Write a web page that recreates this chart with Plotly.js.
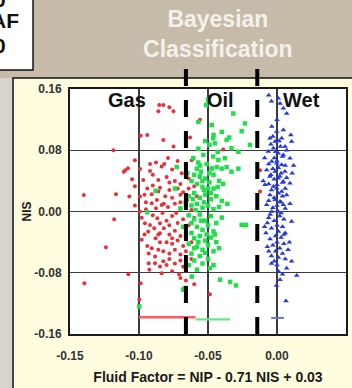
<!DOCTYPE html>
<html><head><meta charset="utf-8">
<script src="https://cdn.plot.ly/plotly-3.0.1.min.js"></script>
<style>html,body{margin:0;padding:0;overflow:hidden;background:#c6bba9}</style>
</head><body><div id="chart" style="width:352px;height:388px"></div>
<script>
const xTickVals = [-0.15, -0.10, -0.05, 0.00, 0.05];
const xTickText = ['-0.15', '-0.10', '-0.05', '0.00', '0.05'];
const yTickVals = [-0.16, -0.08, 0.00, 0.08, 0.16];
const yTickText = ['-0.16', '-0.08', '0.00', '0.08', '0.16'];
const lightGridX = [-0.05];
const classNames = ['Gas', 'Oil', 'Wet'];
const classLabelX = [-0.109, -0.041, 0.018];
const classLabelY = [0.146, 0.146, 0.146];
const boundaries = [-0.066, -0.0143];

const gasX = [-0.0853,-0.0860,-0.0824,-0.0780,-0.0750,-0.0988,-0.0940,-0.0824,-0.0630,-0.0558,-0.0750,-0.1186,-0.1030,-0.0920,-0.0877,-0.0817,-0.0790,-0.0720,-0.1080,-0.1110,-0.0993,-0.0836,-0.0920,-0.1100,-0.0760,-0.0690,-0.0473,-0.0390,-0.0969,-0.0860,-0.0800,-0.0740,-0.0700,-0.0640,-0.1030,-0.0940,-0.0900,-0.0848,-0.0780,-0.0720,-0.0680,-0.0600,-0.1400,-0.1167,-0.1070,-0.0993,-0.0908,-0.0860,-0.0810,-0.0760,-0.0700,-0.0650,-0.0580,-0.1030,-0.0908,-0.0877,-0.0836,-0.0790,-0.0740,-0.0700,-0.0660,-0.0620,-0.0993,-0.0950,-0.1180,-0.0957,-0.0920,-0.0867,-0.0848,-0.0800,-0.0760,-0.0720,-0.0680,-0.0640,-0.0600,-0.0900,-0.0980,-0.0933,-0.0890,-0.0848,-0.0820,-0.0780,-0.0740,-0.0700,-0.0660,-0.0880,-0.0960,-0.0980,-0.0848,-0.0800,-0.0760,-0.0720,-0.0680,-0.0620,-0.1240,-0.0908,-0.0860,-0.0824,-0.0780,-0.0740,-0.0700,-0.0660,-0.0930,-0.0884,-0.0930,-0.0884,-0.0848,-0.0824,-0.0780,-0.0740,-0.0700,-0.0680,-0.0925,-0.0836,-0.0760,-0.0710,-0.1396,-0.1077,-0.0988,-0.0998,-0.0700,-0.0660,-0.0486,-0.0600,-0.0618,-0.0560,-0.0123,-0.0123,-0.0870,-0.0830,-0.0780,-0.0950,-0.0730,-0.0860,-0.0780,-0.0640,-0.0900,-0.0960,-0.0820,-0.0760,-0.0940,-0.0700,-0.0620,-0.1050,-0.0800];
const gasY = [0.139,0.131,0.139,0.136,0.131,0.099,0.100,0.0935,0.0966,0.120,0.085,0.080,0.067,0.062,0.064,0.062,0.070,0.066,0.0565,0.052,0.0556,0.0587,0.053,0.054,0.055,0.050,0.0565,0.081,0.041,0.041,0.045,0.040,0.036,0.043,0.033,0.030,0.034,0.031,0.028,0.030,0.025,0.033,0.0217,0.0226,0.0196,0.0196,0.0226,0.026,0.020,0.018,0.022,0.015,0.020,0.0078,0.0108,0.0043,0.0086,0.006,0.010,0.004,0.008,0.002,0.000,0.003,-0.010,-0.0153,-0.0175,-0.0087,-0.0153,-0.012,-0.006,-0.015,-0.010,-0.018,-0.008,-0.005,-0.008,-0.026,-0.022,-0.0284,-0.022,-0.030,-0.025,-0.032,-0.028,-0.035,-0.030,-0.037,-0.040,-0.040,-0.042,-0.038,-0.045,-0.040,-0.0466,-0.048,-0.050,-0.052,-0.055,-0.050,-0.056,-0.052,-0.055,-0.0587,-0.0675,-0.0675,-0.0718,-0.065,-0.062,-0.068,-0.064,-0.072,-0.076,-0.0805,-0.078,-0.082,-0.0936,-0.082,-0.0936,-0.115,-0.087,-0.090,-0.108,-0.095,0.067,0.045,0.054,0.026,0.015,-0.002,0.038,0.012,-0.002,-0.030,-0.018,0.030,0.048,0.022,0.010,-0.035,-0.045,0.012,-0.062,0.042,-0.070];

const oilX = [-0.0514,-0.0500,-0.0317,-0.0232,-0.0256,-0.0400,-0.0473,-0.0460,-0.0196,-0.0346,-0.0365,-0.0462,-0.0490,-0.0450,-0.0330,-0.0280,-0.0607,-0.0534,-0.0462,-0.0425,-0.0377,-0.0558,-0.0510,-0.0473,-0.0437,-0.0401,-0.0365,-0.0280,-0.0330,-0.0727,-0.0600,-0.0560,-0.0520,-0.0490,-0.0460,-0.0420,-0.0390,-0.0620,-0.0580,-0.0540,-0.0500,-0.0460,-0.0740,-0.0880,-0.0640,-0.0600,-0.0560,-0.0520,-0.0480,-0.0440,-0.0400,-0.0620,-0.0580,-0.0540,-0.0500,-0.0460,-0.0420,-0.0660,-0.0700,-0.0360,-0.0940,-0.0640,-0.0600,-0.0560,-0.0520,-0.0480,-0.0440,-0.0400,-0.0580,-0.0540,-0.0500,-0.0460,-0.0620,-0.0680,-0.0256,-0.0225,-0.0600,-0.0560,-0.0520,-0.0480,-0.0440,-0.0640,-0.0580,-0.0540,-0.0500,-0.0460,-0.0620,-0.0560,-0.0420,-0.0600,-0.0540,-0.0500,-0.0486,-0.0640,-0.0580,-0.0460,-0.0667,-0.0680,-0.0618,-0.0413,-0.0340,-0.0297,-0.0998,-0.0550,-0.0570,-0.0530,-0.0510,-0.0570,-0.0590,-0.0550,-0.0610,-0.0490,-0.0530,-0.0570,-0.0520,-0.0430,-0.0480,-0.0600,-0.0520,-0.0650,-0.0580,-0.0620,-0.0450,-0.0430,-0.0540,-0.0570];
const oilY = [0.139,0.146,0.128,0.115,0.105,0.104,0.113,0.100,0.087,0.0966,0.0935,0.0957,0.087,0.089,0.0826,0.078,0.0696,0.074,0.0718,0.0674,0.0696,0.060,0.062,0.056,0.058,0.056,0.058,0.056,0.052,0.058,0.048,0.046,0.043,0.050,0.048,0.040,0.036,0.040,0.036,0.032,0.030,0.030,0.030,0.027,0.020,0.024,0.018,0.022,0.016,0.020,0.014,0.008,0.010,0.005,0.008,0.003,0.006,0.012,0.004,0.010,-0.001,-0.005,-0.010,-0.004,-0.012,-0.006,-0.015,-0.008,-0.020,-0.024,-0.018,-0.026,-0.028,-0.020,-0.0175,-0.0175,-0.035,-0.032,-0.038,-0.034,-0.040,-0.042,-0.046,-0.050,-0.044,-0.052,-0.055,-0.058,-0.048,-0.064,-0.068,-0.062,-0.074,-0.070,-0.076,-0.070,-0.100,-0.102,-0.085,-0.089,-0.092,-0.0966,-0.124,0.052,0.064,0.012,-0.030,-0.040,0.002,-0.012,0.016,0.038,0.028,0.082,0.092,0.078,0.024,-0.048,-0.054,0.050,0.056,-0.015,-0.030,0.032,0.040,0.117];

const wetX = [0.0009,0.0022,0.0046,0.0070,-0.0060,-0.0040,0.0000,-0.0038,-0.0002,0.0046,-0.0051,-0.0014,0.0034,0.0106,0.0058,-0.0026,-0.0063,0.0009,0.0046,0.0094,-0.0038,-0.0002,0.0034,-0.0075,-0.0014,0.0058,-0.0051,0.0009,0.0046,0.0094,-0.0087,-0.0026,-0.0002,0.0034,-0.0051,0.0070,-0.0014,0.0022,-0.0075,0.0046,0.0094,-0.0038,0.0009,-0.0030,0.0015,-0.0045,0.0025,0.0070,-0.0010,0.0040,-0.0020,0.0000,-0.0060,0.0060,0.0010,-0.0030,0.0030,-0.0045,0.0020,0.0070,-0.0020,0.0040,-0.0060,0.0000,0.0060,-0.0040,0.0010,0.0040,-0.0020,-0.0060,0.0030,0.0000,-0.0030,0.0060,-0.0100,0.0110,-0.0090,0.0100,0.0120,-0.0050,0.0020,0.0050,-0.0020,-0.0070,0.0000,0.0106,0.0040,-0.0040,0.0010,-0.0080,0.0060,-0.0010,0.0030,-0.0050,0.0000,0.0050,-0.0030,-0.0070,0.0020,0.0080,-0.0010,0.0040,-0.0040,0.0010,0.0106,0.0060,-0.0020,0.0070,0.0143,0.0040,0.0022,-0.0004,0.0010,0.0065,-0.0060,0.0030,-0.0090,0.0090,-0.0060,0.0000,0.0050,-0.0040];
const wetY = [0.148,0.141,0.135,0.128,0.152,0.144,0.120,0.111,0.1044,0.1065,0.0957,0.0914,0.0957,0.0914,0.0849,0.0826,0.0783,0.0761,0.0739,0.0696,0.0653,0.0631,0.0609,0.0543,0.0522,0.0522,0.0457,0.0435,0.0392,0.0369,0.0348,0.0326,0.0304,0.0261,0.0217,0.0217,0.0152,0.0131,0.0087,0.0087,0.0100,0.0000,0.0000,0.098,0.092,0.088,0.085,0.080,0.078,0.072,0.070,0.066,0.062,0.060,0.057,0.056,0.050,0.048,0.046,0.044,0.042,0.038,0.036,0.035,0.030,0.028,0.024,0.020,0.018,0.014,0.012,0.008,0.005,0.004,0.040,0.050,0.070,0.100,0.060,-0.004,-0.006,-0.010,-0.012,-0.015,-0.018,-0.013,-0.020,-0.022,-0.026,-0.028,-0.028,-0.032,-0.034,-0.036,-0.040,-0.042,-0.044,-0.046,-0.048,-0.050,-0.052,-0.055,-0.058,-0.060,-0.065,-0.062,-0.065,-0.074,-0.0836,-0.082,-0.089,-0.0966,-0.078,-0.117,-0.008,-0.002,-0.020,-0.040,-0.052,-0.070,-0.030,-0.068];

const gasBarX = [-0.100, -0.059];
const gasBarY = [-0.138, -0.138];
const oilBarX = [-0.059, -0.034];
const oilBarY = [-0.141, -0.141];
const wetBarX = [-0.0043, 0.005];
const wetBarY = [-0.139, -0.139];

const FONT = 'Liberation Sans, Arial, sans-serif';

const traces = [
  {x: gasX, y: gasY, type: 'scatter', mode: 'markers', name: 'Gas',
   marker: {symbol: 'circle', size: 4, color: '#ee2d37'}},
  {x: oilX, y: oilY, type: 'scatter', mode: 'markers', name: 'Oil',
   marker: {symbol: 'square', size: 4.5, color: '#1fe04a'}},
  {x: wetX, y: wetY, type: 'scatter', mode: 'markers', name: 'Wet',
   marker: {symbol: 'triangle-up', size: 5, color: '#2338e6'}},
  {x: gasBarX, y: gasBarY, type: 'scatter', mode: 'lines', line: {color: '#ff5a5a', width: 2.5}, hoverinfo: 'skip'},
  {x: oilBarX, y: oilBarY, type: 'scatter', mode: 'lines', line: {color: '#6fe38a', width: 2.2}, hoverinfo: 'skip'},
  {x: wetBarX, y: wetBarY, type: 'scatter', mode: 'lines', line: {color: '#6a78c8', width: 2}, hoverinfo: 'skip'}
];

const shapes = [
  {type: 'rect', xref: 'paper', yref: 'paper', x0: -0.3, x1: -0.2065, y0: -0.3, y1: 1.045,
   fillcolor: '#d8d4cc', line: {width: 0}, layer: 'below'},
  {type: 'rect', xref: 'paper', yref: 'paper', x0: -0.2065, x1: 1.1, y0: -0.3, y1: 1.0449,
   fillcolor: '#fffce0', line: {color: '#111', width: 1.5}, layer: 'below'},
  {type: 'rect', xref: 'paper', yref: 'paper', x0: 0, x1: 1, y0: 0, y1: 1,
   fillcolor: '#ffffff', line: {width: 0}, layer: 'below'},
  {type: 'rect', xref: 'paper', yref: 'paper', x0: -0.27, x1: -0.134, y0: 1.0776, y1: 1.4,
   fillcolor: '#ffffff', line: {color: '#111', width: 1.5}, layer: 'below'}
];
lightGridX.forEach(v => shapes.push({type: 'line', xref: 'x', yref: 'paper', x0: v, x1: v, y0: 0, y1: 1,
  line: {color: '#a3a3a3', width: 2}, layer: 'between'}));
boundaries.forEach(v => shapes.push({type: 'line', xref: 'x', yref: 'paper', x0: v, x1: v, y0: 1.0816, y1: 0,
  line: {color: '#000', width: 4, dash: '17px,14px'}, layer: 'above'}));

const annotations = classNames.map((t, i) => ({
  text: t, x: classLabelX[i], y: classLabelY[i], xref: 'x', yref: 'y', showarrow: false,
  xanchor: 'center', yanchor: 'middle', font: {family: FONT, size: 20, color: '#111', weight: 'bold'}
}));
annotations.push(
  {text: '0', xref: 'paper', yref: 'paper', x: -0.2246, y: 1.367, xanchor: 'right', yanchor: 'middle', showarrow: false,
   font: {family: FONT, size: 21, color: '#111', weight: 'bold'}},
  {text: 'AF', xref: 'paper', yref: 'paper', x: -0.1775, y: 1.2796, xanchor: 'right', yanchor: 'middle', showarrow: false,
   font: {family: FONT, size: 21, color: '#111', weight: 'bold'}},
  {text: '0', xref: 'paper', yref: 'paper', x: -0.2246, y: 1.1776, xanchor: 'right', yanchor: 'middle', showarrow: false,
   font: {family: FONT, size: 21, color: '#111', weight: 'bold'}}
);

const axisCommon = {
  showgrid: true, gridcolor: '#3c3c3c', gridwidth: 1.3, zeroline: false,
  showline: true, linecolor: '#1a1a1a', linewidth: 2, mirror: true, ticks: '',
  tickfont: {family: FONT, size: 12, color: '#333', weight: 'bold'}, fixedrange: true
};

const layout = {
  width: 352, height: 388,
  margin: {l: 70, r: 6, t: 89, b: 54, pad: 0},
  paper_bgcolor: '#c6bba9', plot_bgcolor: 'rgba(0,0,0,0)',
  showlegend: false,
  font: {family: FONT},
  title: {text: 'Bayesian<br>Classification', x: 0.619, xanchor: 'center', xref: 'container',
    y: 0.931, yanchor: 'middle', yref: 'container',
    font: {family: FONT, size: 23, color: '#f4f1ea', weight: 'bold'}},
  xaxis: Object.assign({}, axisCommon, {
    range: [-0.15, 0.05], tickmode: 'array', tickvals: xTickVals, ticktext: xTickText,
    ticklabelstandoff: 10,
    title: {text: 'Fluid Factor = NIP - 0.71 NIS + 0.03', standoff: 10,
      font: {family: FONT, size: 14, color: '#1a1a1a', weight: 'bold'}}
  }),
  yaxis: Object.assign({}, axisCommon, {
    range: [-0.16, 0.16], tickmode: 'array', tickvals: yTickVals, ticktext: yTickText,
    ticklabelstandoff: 4,
    title: {text: 'NIS', standoff: 0,
      font: {family: FONT, size: 12, color: '#1a1a1a', weight: 'bold'}}
  }),
  shapes: shapes,
  annotations: annotations
};

Plotly.newPlot('chart', traces, layout, {displayModeBar: false, staticPlot: true});
</script>
</body></html>
